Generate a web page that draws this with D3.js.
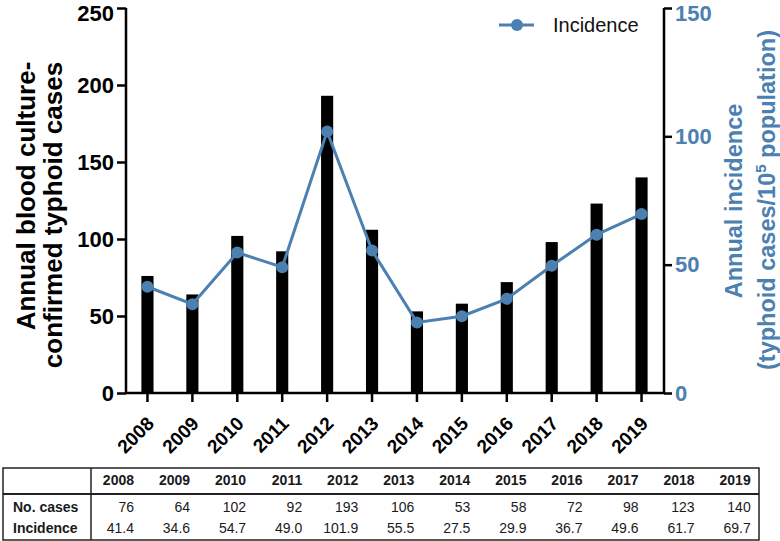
<!DOCTYPE html>
<html>
<head>
<meta charset="utf-8">
<script src="https://cdn.jsdelivr.net/npm/d3@7"></script>
<style>
  html, body { margin: 0; padding: 0; background: #fff; }
  svg { display: block; font-family: "Liberation Sans", Arial, sans-serif; }
</style>
</head>
<body>
<svg id="chart" width="780" height="541"></svg>
<script>
const years = ["2008","2009","2010","2011","2012","2013","2014","2015","2016","2017","2018","2019"];
const cases = [76, 64, 102, 92, 193, 106, 53, 58, 72, 98, 123, 140];
const incidence = [41.4, 34.6, 54.7, 49.0, 101.9, 55.5, 27.5, 29.9, 36.7, 49.6, 61.7, 69.7];
const incidenceLabels = ["41.4","34.6","54.7","49.0","101.9","55.5","27.5","29.9","36.7","49.6","61.7","69.7"];
const leftTicks = [0, 50, 100, 150, 200, 250];
const rightTicks = [0, 50, 100, 150];
const leftTitle = ["Annual blood culture-", "confirmed typhoid cases"];
const rowLabels = ["No. cases", "Incidence"];

const BLUE = "#4b80b1";
const svg = d3.select("#chart");

const x = d3.scaleBand().domain(years).range([125, 664]).paddingInner(0.73).paddingOuter(0.365);
const yL = d3.scaleLinear().domain([0, 250]).range([393, 8]);
const yR = d3.scaleLinear().domain([0, 150]).range([393, 8]);
const cx = d => x(d) + x.bandwidth() / 2;

// bars
svg.append("g").selectAll("rect").data(years).join("rect")
  .attr("x", d => x(d))
  .attr("width", x.bandwidth())
  .attr("y", (d, i) => yL(cases[i]))
  .attr("height", (d, i) => yL(0) - yL(cases[i]))
  .attr("fill", "#000");

// line
const line = d3.line().x((d, i) => cx(years[i])).y(d => yR(d));
svg.append("path").datum(incidence)
  .attr("d", line).attr("fill", "none")
  .attr("stroke", BLUE).attr("stroke-width", 3);
svg.append("g").selectAll("circle").data(incidence).join("circle")
  .attr("cx", (d, i) => cx(years[i])).attr("cy", d => yR(d))
  .attr("r", 6).attr("fill", BLUE);

// left axis
const gL = svg.append("g").attr("transform", "translate(126,0)")
  .call(d3.axisLeft(yL).tickValues(leftTicks).tickSize(9).tickPadding(3));
gL.selectAll("path,line").attr("stroke", "#000").attr("stroke-width", 2.5);
gL.select(".domain").attr("d", "M0,8V393");
gL.selectAll("text").attr("font-size", 22).attr("font-weight", "bold").attr("fill", "#000")
  .attr("font-family", "Liberation Sans, Arial, sans-serif")
  .attr("dy", (d) => d === 250 ? "0.55em" : "0.32em");

// right axis
const gR = svg.append("g").attr("transform", "translate(664,0)")
  .call(d3.axisRight(yR).tickValues(rightTicks).tickSize(8).tickPadding(3));
gR.selectAll("path,line").attr("stroke", "#000").attr("stroke-width", 2.5);
gR.select(".domain").attr("d", "M0,8V393");
gR.selectAll("text").attr("font-size", 22).attr("font-weight", "bold").attr("fill", BLUE)
  .attr("font-family", "Liberation Sans, Arial, sans-serif")
  .attr("dy", (d) => d === 150 ? "0.55em" : "0.32em");

// bottom axis
const gB = svg.append("g").attr("transform", "translate(0,393)")
  .call(d3.axisBottom(x).tickSize(9).tickPadding(4));
gB.selectAll("path,line").attr("stroke", "#000").attr("stroke-width", 2.5);
gB.select(".domain").attr("d", "M125,0H665");
gB.selectAll("text")
  .attr("font-size", 19).attr("font-weight", "bold").attr("fill", "#000")
  .attr("font-family", "Liberation Sans, Arial, sans-serif")
  .attr("text-anchor", "end")
  .attr("dy", "0.35em")
  .attr("transform", "translate(3,27) rotate(-45)")
  .attr("y", 0).attr("x", 0);

// left title
svg.append("text").attr("transform", "translate(35,196) rotate(-90)")
  .attr("text-anchor", "middle").attr("font-size", 26).attr("font-weight", "bold")
  .text(leftTitle[0]);
svg.append("text").attr("transform", "translate(62,215) rotate(-90)")
  .attr("text-anchor", "middle").attr("font-size", 26).attr("font-weight", "bold")
  .text(leftTitle[1]);

// right title
svg.append("text").attr("transform", "translate(742,201) rotate(-90)")
  .attr("text-anchor", "middle").attr("font-size", 23.5).attr("font-weight", "bold")
  .attr("fill", BLUE).text("Annual incidence");
const rt2 = svg.append("text").attr("transform", "translate(775,200) rotate(-90)")
  .attr("text-anchor", "middle").attr("font-size", 23.5).attr("font-weight", "bold")
  .attr("fill", BLUE);
rt2.append("tspan").text("(typhoid cases/10");
rt2.append("tspan").attr("font-size", 15).attr("dy", -9).text("5");
rt2.append("tspan").attr("dy", 9).text(" population)");

// legend
svg.append("line").attr("x1", 499).attr("x2", 534).attr("y1", 25).attr("y2", 25)
  .attr("stroke", BLUE).attr("stroke-width", 3);
svg.append("circle").attr("cx", 517).attr("cy", 25).attr("r", 6).attr("fill", BLUE);
svg.append("text").attr("x", 553).attr("y", 32).attr("font-size", 20).attr("fill", "#111")
  .text("Incidence");

// table
const tbl = svg.append("g");
const TXT = "#1a1a1a";
tbl.append("rect").attr("x", 3).attr("y", 468).attr("width", 756).attr("height", 72)
  .attr("fill", "none").attr("stroke", "#222").attr("stroke-width", 1.5);
tbl.append("line").attr("x1", 3).attr("x2", 759).attr("y1", 494).attr("y2", 494)
  .attr("stroke", "#222").attr("stroke-width", 2);
tbl.append("line").attr("x1", 91).attr("x2", 91).attr("y1", 468).attr("y2", 540)
  .attr("stroke", "#222").attr("stroke-width", 1.5);
const colX = d3.scalePoint().domain(years).range([134, 750.7]);
tbl.append("g").selectAll("text").data(years).join("text")
  .attr("x", d => colX(d)).attr("y", 485).attr("text-anchor", "end")
  .attr("font-size", 14).attr("font-weight", "bold").attr("fill", TXT).text(d => d);
tbl.append("g").selectAll("text").data(cases).join("text")
  .attr("x", (d, i) => colX(years[i])).attr("y", 512).attr("text-anchor", "end")
  .attr("font-size", 14).attr("fill", TXT).text(d => d);
tbl.append("g").selectAll("text").data(incidenceLabels).join("text")
  .attr("x", (d, i) => colX(years[i])).attr("y", 533).attr("text-anchor", "end")
  .attr("font-size", 14).attr("fill", TXT).text(d => d);
tbl.append("g").selectAll("text").data(rowLabels).join("text")
  .attr("x", 13).attr("y", (d, i) => i === 0 ? 512 : 533)
  .attr("font-size", 14).attr("font-weight", "bold").attr("fill", TXT).text(d => d);
</script>
</body>
</html>
